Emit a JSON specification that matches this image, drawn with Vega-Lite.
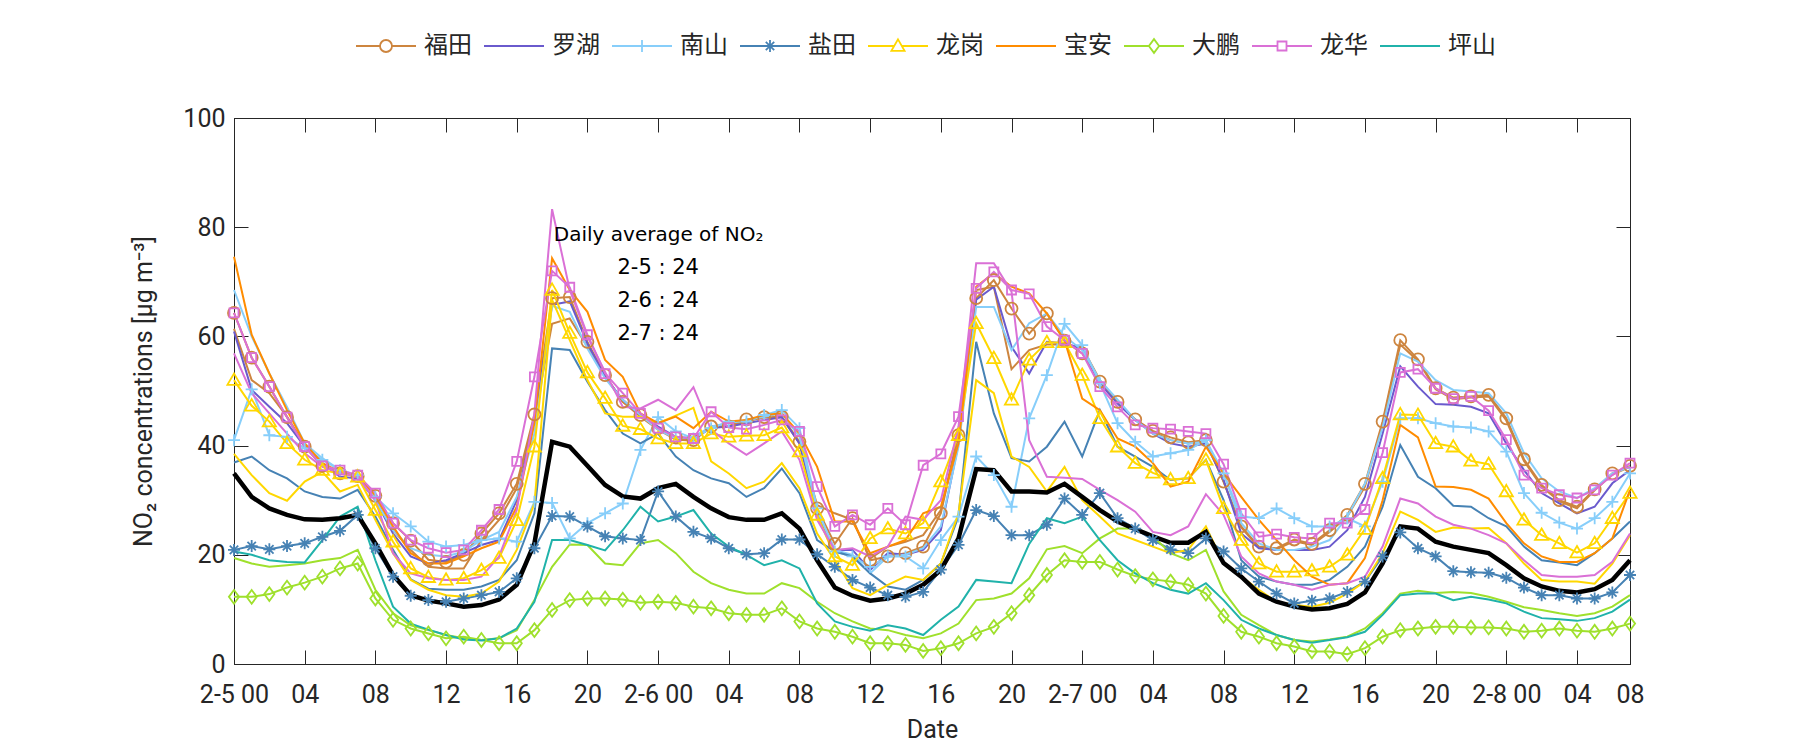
{
"$schema": "https://vega.github.io/schema/vega-lite/v6.json",
"autosize": {"type": "none"},
"width": 1396, "height": 546,
"padding": {"left": 234, "top": 118, "right": 170, "bottom": 86},
"background": "white",
"config": {
  "font": "Roboto",
  "view": {"stroke": "#262626", "strokeWidth": 1},
  "axis": {"domainColor": "#262626", "tickColor": "#262626", "labelColor": "#262626", "titleColor": "#262626", "grid": false, "labelFont": "Roboto", "titleFont": "Roboto", "labelFontSize": 25, "titleFontSize": 25, "titleFontWeight": "normal", "tickSize": -14, "tickWidth": 1}
},
"data": {"values": [
{"d":"福田","k":"a","h":0,"v":64.3},{"d":"福田","k":"a","h":1,"v":56.1},{"d":"福田","k":"a","h":2,"v":50.8},{"d":"福田","k":"a","h":3,"v":45.2},{"d":"福田","k":"a","h":4,"v":39.8},{"d":"福田","k":"a","h":5,"v":36.3},{"d":"福田","k":"a","h":6,"v":34.9},{"d":"福田","k":"a","h":7,"v":34.4},{"d":"福田","k":"a","h":8,"v":30.8},{"d":"福田","k":"a","h":9,"v":25.8},{"d":"福田","k":"a","h":10,"v":22.6},{"d":"福田","k":"a","h":11,"v":19.1},{"d":"福田","k":"a","h":12,"v":18.7},{"d":"福田","k":"a","h":13,"v":20.0},{"d":"福田","k":"a","h":14,"v":23.9},{"d":"福田","k":"a","h":15,"v":27.6},{"d":"福田","k":"a","h":16,"v":33.0},{"d":"福田","k":"a","h":17,"v":45.7},{"d":"福田","k":"a","h":18,"v":67.0},{"d":"福田","k":"a","h":19,"v":67.2},{"d":"福田","k":"a","h":20,"v":59.0},{"d":"福田","k":"a","h":21,"v":52.9},{"d":"福田","k":"a","h":22,"v":48.0},{"d":"福田","k":"a","h":23,"v":45.6},{"d":"福田","k":"a","h":24,"v":43.2},{"d":"福田","k":"a","h":25,"v":41.5},{"d":"福田","k":"a","h":26,"v":41.0},{"d":"福田","k":"a","h":27,"v":43.5},{"d":"福田","k":"a","h":28,"v":43.5},{"d":"福田","k":"a","h":29,"v":44.8},{"d":"福田","k":"a","h":30,"v":45.2},{"d":"福田","k":"a","h":31,"v":45.3},{"d":"福田","k":"a","h":32,"v":40.7},{"d":"福田","k":"a","h":33,"v":28.5},{"d":"福田","k":"a","h":34,"v":22.0},{"d":"福田","k":"a","h":35,"v":26.7},{"d":"福田","k":"a","h":36,"v":19.0},{"d":"福田","k":"a","h":37,"v":19.7},{"d":"福田","k":"a","h":38,"v":20.3},{"d":"福田","k":"a","h":39,"v":21.5},{"d":"福田","k":"a","h":40,"v":27.6},{"d":"福田","k":"a","h":41,"v":41.9},{"d":"福田","k":"a","h":42,"v":67.0},{"d":"福田","k":"a","h":43,"v":70.3},{"d":"福田","k":"a","h":44,"v":65.1},{"d":"福田","k":"a","h":45,"v":60.5},{"d":"福田","k":"a","h":46,"v":64.2},{"d":"福田","k":"a","h":47,"v":59.2},{"d":"福田","k":"a","h":48,"v":56.9},{"d":"福田","k":"a","h":49,"v":51.7},{"d":"福田","k":"a","h":50,"v":48.0},{"d":"福田","k":"a","h":51,"v":44.8},{"d":"福田","k":"a","h":52,"v":42.7},{"d":"福田","k":"a","h":53,"v":41.5},{"d":"福田","k":"a","h":54,"v":40.6},{"d":"福田","k":"a","h":55,"v":41.0},{"d":"福田","k":"a","h":56,"v":33.4},{"d":"福田","k":"a","h":57,"v":25.2},{"d":"福田","k":"a","h":58,"v":21.5},{"d":"福田","k":"a","h":59,"v":21.2},{"d":"福田","k":"a","h":60,"v":22.8},{"d":"福田","k":"a","h":61,"v":22.0},{"d":"福田","k":"a","h":62,"v":24.5},{"d":"福田","k":"a","h":63,"v":27.3},{"d":"福田","k":"a","h":64,"v":33.0},{"d":"福田","k":"a","h":65,"v":44.4},{"d":"福田","k":"a","h":66,"v":59.3},{"d":"福田","k":"a","h":67,"v":55.8},{"d":"福田","k":"a","h":68,"v":50.5},{"d":"福田","k":"a","h":69,"v":48.8},{"d":"福田","k":"a","h":70,"v":49.0},{"d":"福田","k":"a","h":71,"v":49.3},{"d":"福田","k":"a","h":72,"v":45.0},{"d":"福田","k":"a","h":73,"v":37.5},{"d":"福田","k":"a","h":74,"v":32.8},{"d":"福田","k":"a","h":75,"v":30.0},{"d":"福田","k":"a","h":76,"v":28.8},{"d":"福田","k":"a","h":77,"v":32.0},{"d":"福田","k":"a","h":78,"v":34.9},{"d":"福田","k":"a","h":79,"v":36.3},
{"d":"福田","k":"b","h":0,"v":61.4},{"d":"福田","k":"b","h":1,"v":52.0},{"d":"福田","k":"b","h":2,"v":49.6},{"d":"福田","k":"b","h":3,"v":45.3},{"d":"福田","k":"b","h":4,"v":40.1},{"d":"福田","k":"b","h":5,"v":36.4},{"d":"福田","k":"b","h":6,"v":35.0},{"d":"福田","k":"b","h":7,"v":34.3},{"d":"福田","k":"b","h":8,"v":30.3},{"d":"福田","k":"b","h":9,"v":24.5},{"d":"福田","k":"b","h":10,"v":20.9},{"d":"福田","k":"b","h":11,"v":17.8},{"d":"福田","k":"b","h":12,"v":17.5},{"d":"福田","k":"b","h":13,"v":17.5},{"d":"福田","k":"b","h":14,"v":22.7},{"d":"福田","k":"b","h":15,"v":26.4},{"d":"福田","k":"b","h":16,"v":32.2},{"d":"福田","k":"b","h":17,"v":44.9},{"d":"福田","k":"b","h":18,"v":62.3},{"d":"福田","k":"b","h":19,"v":63.3},{"d":"福田","k":"b","h":20,"v":58.1},{"d":"福田","k":"b","h":21,"v":52.6},{"d":"福田","k":"b","h":22,"v":48.0},{"d":"福田","k":"b","h":23,"v":45.3},{"d":"福田","k":"b","h":24,"v":42.9},{"d":"福田","k":"b","h":25,"v":41.1},{"d":"福田","k":"b","h":26,"v":40.9},{"d":"福田","k":"b","h":27,"v":43.5},{"d":"福田","k":"b","h":28,"v":43.6},{"d":"福田","k":"b","h":29,"v":44.4},{"d":"福田","k":"b","h":30,"v":45.2},{"d":"福田","k":"b","h":31,"v":45.2},{"d":"福田","k":"b","h":32,"v":40.4},{"d":"福田","k":"b","h":33,"v":29.1},{"d":"福田","k":"b","h":34,"v":27.6},{"d":"福田","k":"b","h":35,"v":26.4},{"d":"福田","k":"b","h":36,"v":19.3},{"d":"福田","k":"b","h":37,"v":21.5},{"d":"福田","k":"b","h":38,"v":22.4},{"d":"福田","k":"b","h":39,"v":23.6},{"d":"福田","k":"b","h":40,"v":28.2},{"d":"福田","k":"b","h":41,"v":42.2},{"d":"福田","k":"b","h":42,"v":68.5},{"d":"福田","k":"b","h":43,"v":69.1},{"d":"福田","k":"b","h":44,"v":54.0},{"d":"福田","k":"b","h":45,"v":57.5},{"d":"福田","k":"b","h":46,"v":58.5},{"d":"福田","k":"b","h":47,"v":58.5},{"d":"福田","k":"b","h":48,"v":58.0},{"d":"福田","k":"b","h":49,"v":52.0},{"d":"福田","k":"b","h":50,"v":48.0},{"d":"福田","k":"b","h":51,"v":44.7},{"d":"福田","k":"b","h":52,"v":42.5},{"d":"福田","k":"b","h":53,"v":41.0},{"d":"福田","k":"b","h":54,"v":40.4},{"d":"福田","k":"b","h":55,"v":40.7},{"d":"福田","k":"b","h":56,"v":33.4},{"d":"福田","k":"b","h":57,"v":25.0},{"d":"福田","k":"b","h":58,"v":21.3},{"d":"福田","k":"b","h":59,"v":21.0},{"d":"福田","k":"b","h":60,"v":22.5},{"d":"福田","k":"b","h":61,"v":21.8},{"d":"福田","k":"b","h":62,"v":24.2},{"d":"福田","k":"b","h":63,"v":27.0},{"d":"福田","k":"b","h":64,"v":32.5},{"d":"福田","k":"b","h":65,"v":44.0},{"d":"福田","k":"b","h":66,"v":58.5},{"d":"福田","k":"b","h":67,"v":55.5},{"d":"福田","k":"b","h":68,"v":50.3},{"d":"福田","k":"b","h":69,"v":48.5},{"d":"福田","k":"b","h":70,"v":48.8},{"d":"福田","k":"b","h":71,"v":49.0},{"d":"福田","k":"b","h":72,"v":44.6},{"d":"福田","k":"b","h":73,"v":37.2},{"d":"福田","k":"b","h":74,"v":32.5},{"d":"福田","k":"b","h":75,"v":29.8},{"d":"福田","k":"b","h":76,"v":28.5},{"d":"福田","k":"b","h":77,"v":31.8},{"d":"福田","k":"b","h":78,"v":34.7},{"d":"福田","k":"b","h":79,"v":36.1},
{"d":"罗湖","k":"a","h":0,"v":60.9},{"d":"罗湖","k":"a","h":1,"v":50.2},{"d":"罗湖","k":"a","h":2,"v":47.1},{"d":"罗湖","k":"a","h":3,"v":44.1},{"d":"罗湖","k":"a","h":4,"v":39.8},{"d":"罗湖","k":"a","h":5,"v":36.8},{"d":"罗湖","k":"a","h":6,"v":34.3},{"d":"罗湖","k":"a","h":7,"v":34.0},{"d":"罗湖","k":"a","h":8,"v":30.0},{"d":"罗湖","k":"a","h":9,"v":23.9},{"d":"罗湖","k":"a","h":10,"v":19.7},{"d":"罗湖","k":"a","h":11,"v":18.4},{"d":"罗湖","k":"a","h":12,"v":19.0},{"d":"罗湖","k":"a","h":13,"v":20.3},{"d":"罗湖","k":"a","h":14,"v":21.8},{"d":"罗湖","k":"a","h":15,"v":22.7},{"d":"罗湖","k":"a","h":16,"v":30.0},{"d":"罗湖","k":"a","h":17,"v":44.9},{"d":"罗湖","k":"a","h":18,"v":65.8},{"d":"罗湖","k":"a","h":19,"v":66.4},{"d":"罗湖","k":"a","h":20,"v":58.7},{"d":"罗湖","k":"a","h":21,"v":52.6},{"d":"罗湖","k":"a","h":22,"v":48.4},{"d":"罗湖","k":"a","h":23,"v":45.6},{"d":"罗湖","k":"a","h":24,"v":43.5},{"d":"罗湖","k":"a","h":25,"v":41.6},{"d":"罗湖","k":"a","h":26,"v":41.3},{"d":"罗湖","k":"a","h":27,"v":43.2},{"d":"罗湖","k":"a","h":28,"v":43.5},{"d":"罗湖","k":"a","h":29,"v":44.1},{"d":"罗湖","k":"a","h":30,"v":44.7},{"d":"罗湖","k":"a","h":31,"v":45.2},{"d":"罗湖","k":"a","h":32,"v":40.4},{"d":"罗湖","k":"a","h":33,"v":27.6},{"d":"罗湖","k":"a","h":34,"v":20.9},{"d":"罗湖","k":"a","h":35,"v":20.9},{"d":"罗湖","k":"a","h":36,"v":17.2},{"d":"罗湖","k":"a","h":37,"v":20.3},{"d":"罗湖","k":"a","h":38,"v":20.0},{"d":"罗湖","k":"a","h":39,"v":20.9},{"d":"罗湖","k":"a","h":40,"v":24.5},{"d":"罗湖","k":"a","h":41,"v":40.4},{"d":"罗湖","k":"a","h":42,"v":66.7},{"d":"罗湖","k":"a","h":43,"v":69.1},{"d":"罗湖","k":"a","h":44,"v":58.1},{"d":"罗湖","k":"a","h":45,"v":53.2},{"d":"罗湖","k":"a","h":46,"v":59.0},{"d":"罗湖","k":"a","h":47,"v":58.7},{"d":"罗湖","k":"a","h":48,"v":57.8},{"d":"罗湖","k":"a","h":49,"v":51.4},{"d":"罗湖","k":"a","h":50,"v":47.7},{"d":"罗湖","k":"a","h":51,"v":44.7},{"d":"罗湖","k":"a","h":52,"v":42.2},{"d":"罗湖","k":"a","h":53,"v":40.4},{"d":"罗湖","k":"a","h":54,"v":39.8},{"d":"罗湖","k":"a","h":55,"v":40.4},{"d":"罗湖","k":"a","h":56,"v":33.7},{"d":"罗湖","k":"a","h":57,"v":23.9},{"d":"罗湖","k":"a","h":58,"v":21.2},{"d":"罗湖","k":"a","h":59,"v":20.9},{"d":"罗湖","k":"a","h":60,"v":20.9},{"d":"罗湖","k":"a","h":61,"v":20.9},{"d":"罗湖","k":"a","h":62,"v":21.5},{"d":"罗湖","k":"a","h":63,"v":24.5},{"d":"罗湖","k":"a","h":64,"v":30.6},{"d":"罗湖","k":"a","h":65,"v":42.2},{"d":"罗湖","k":"a","h":66,"v":54.5},{"d":"罗湖","k":"a","h":67,"v":50.8},{"d":"罗湖","k":"a","h":68,"v":47.6},{"d":"罗湖","k":"a","h":69,"v":47.5},{"d":"罗湖","k":"a","h":70,"v":47.1},{"d":"罗湖","k":"a","h":71,"v":45.9},{"d":"罗湖","k":"a","h":72,"v":40.4},{"d":"罗湖","k":"a","h":73,"v":35.5},{"d":"罗湖","k":"a","h":74,"v":31.3},{"d":"罗湖","k":"a","h":75,"v":29.4},{"d":"罗湖","k":"a","h":76,"v":27.6},{"d":"罗湖","k":"a","h":77,"v":28.8},{"d":"罗湖","k":"a","h":78,"v":33.1},{"d":"罗湖","k":"a","h":79,"v":35.5},
{"d":"南山","k":"a","h":0,"v":41.0},{"d":"南山","k":"a","h":1,"v":50.3},{"d":"南山","k":"a","h":2,"v":41.9},{"d":"南山","k":"a","h":3,"v":41.6},{"d":"南山","k":"a","h":4,"v":39.5},{"d":"南山","k":"a","h":5,"v":37.4},{"d":"南山","k":"a","h":6,"v":35.5},{"d":"南山","k":"a","h":7,"v":34.6},{"d":"南山","k":"a","h":8,"v":30.6},{"d":"南山","k":"a","h":9,"v":27.6},{"d":"南山","k":"a","h":10,"v":25.2},{"d":"南山","k":"a","h":11,"v":22.4},{"d":"南山","k":"a","h":12,"v":21.5},{"d":"南山","k":"a","h":13,"v":21.8},{"d":"南山","k":"a","h":14,"v":22.7},{"d":"南山","k":"a","h":15,"v":23.0},{"d":"南山","k":"a","h":16,"v":22.4},{"d":"南山","k":"a","h":17,"v":29.7},{"d":"南山","k":"a","h":18,"v":29.5},{"d":"南山","k":"a","h":19,"v":23.0},{"d":"南山","k":"a","h":20,"v":25.8},{"d":"南山","k":"a","h":21,"v":27.6},{"d":"南山","k":"a","h":22,"v":29.4},{"d":"南山","k":"a","h":23,"v":39.2},{"d":"南山","k":"a","h":24,"v":45.2},{"d":"南山","k":"a","h":25,"v":42.6},{"d":"南山","k":"a","h":26,"v":41.3},{"d":"南山","k":"a","h":27,"v":43.2},{"d":"南山","k":"a","h":28,"v":44.4},{"d":"南山","k":"a","h":29,"v":44.4},{"d":"南山","k":"a","h":30,"v":45.6},{"d":"南山","k":"a","h":31,"v":46.5},{"d":"南山","k":"a","h":32,"v":43.2},{"d":"南山","k":"a","h":33,"v":28.5},{"d":"南山","k":"a","h":34,"v":20.6},{"d":"南山","k":"a","h":35,"v":19.7},{"d":"南山","k":"a","h":36,"v":17.8},{"d":"南山","k":"a","h":37,"v":19.7},{"d":"南山","k":"a","h":38,"v":19.7},{"d":"南山","k":"a","h":39,"v":17.5},{"d":"南山","k":"a","h":40,"v":22.7},{"d":"南山","k":"a","h":41,"v":27.0},{"d":"南山","k":"a","h":42,"v":38.0},{"d":"南山","k":"a","h":43,"v":34.6},{"d":"南山","k":"a","h":44,"v":28.8},{"d":"南山","k":"a","h":45,"v":45.0},{"d":"南山","k":"a","h":46,"v":52.9},{"d":"南山","k":"a","h":47,"v":62.3},{"d":"南山","k":"a","h":48,"v":58.4},{"d":"南山","k":"a","h":49,"v":51.4},{"d":"南山","k":"a","h":50,"v":44.1},{"d":"南山","k":"a","h":51,"v":40.7},{"d":"南山","k":"a","h":52,"v":38.0},{"d":"南山","k":"a","h":53,"v":38.6},{"d":"南山","k":"a","h":54,"v":39.2},{"d":"南山","k":"a","h":55,"v":41.0},{"d":"南山","k":"a","h":56,"v":34.9},{"d":"南山","k":"a","h":57,"v":27.0},{"d":"南山","k":"a","h":58,"v":26.7},{"d":"南山","k":"a","h":59,"v":28.5},{"d":"南山","k":"a","h":60,"v":26.7},{"d":"南山","k":"a","h":61,"v":25.2},{"d":"南山","k":"a","h":62,"v":25.2},{"d":"南山","k":"a","h":63,"v":26.7},{"d":"南山","k":"a","h":64,"v":25.2},{"d":"南山","k":"a","h":65,"v":33.4},{"d":"南山","k":"a","h":66,"v":45.0},{"d":"南山","k":"a","h":67,"v":45.0},{"d":"南山","k":"a","h":68,"v":44.1},{"d":"南山","k":"a","h":69,"v":43.5},{"d":"南山","k":"a","h":70,"v":43.3},{"d":"南山","k":"a","h":71,"v":42.6},{"d":"南山","k":"a","h":72,"v":38.9},{"d":"南山","k":"a","h":73,"v":31.3},{"d":"南山","k":"a","h":74,"v":27.7},{"d":"南山","k":"a","h":75,"v":25.9},{"d":"南山","k":"a","h":76,"v":24.8},{"d":"南山","k":"a","h":77,"v":26.7},{"d":"南山","k":"a","h":78,"v":29.7},{"d":"南山","k":"a","h":79,"v":34.9},
{"d":"南山","k":"b","h":0,"v":68.5},{"d":"南山","k":"b","h":1,"v":60.0},{"d":"南山","k":"b","h":2,"v":53.2},{"d":"南山","k":"b","h":3,"v":47.1},{"d":"南山","k":"b","h":4,"v":40.4},{"d":"南山","k":"b","h":5,"v":37.7},{"d":"南山","k":"b","h":6,"v":35.5},{"d":"南山","k":"b","h":7,"v":34.3},{"d":"南山","k":"b","h":8,"v":30.0},{"d":"南山","k":"b","h":9,"v":24.5},{"d":"南山","k":"b","h":10,"v":21.2},{"d":"南山","k":"b","h":11,"v":20.0},{"d":"南山","k":"b","h":12,"v":19.7},{"d":"南山","k":"b","h":13,"v":20.6},{"d":"南山","k":"b","h":14,"v":22.7},{"d":"南山","k":"b","h":15,"v":24.2},{"d":"南山","k":"b","h":16,"v":30.6},{"d":"南山","k":"b","h":17,"v":42.2},{"d":"南山","k":"b","h":18,"v":65.6},{"d":"南山","k":"b","h":19,"v":64.5},{"d":"南山","k":"b","h":20,"v":57.8},{"d":"南山","k":"b","h":21,"v":52.3},{"d":"南山","k":"b","h":22,"v":48.4},{"d":"南山","k":"b","h":23,"v":45.6},{"d":"南山","k":"b","h":24,"v":42.9},{"d":"南山","k":"b","h":25,"v":41.3},{"d":"南山","k":"b","h":26,"v":41.6},{"d":"南山","k":"b","h":27,"v":43.5},{"d":"南山","k":"b","h":28,"v":44.1},{"d":"南山","k":"b","h":29,"v":44.7},{"d":"南山","k":"b","h":30,"v":45.3},{"d":"南山","k":"b","h":31,"v":45.9},{"d":"南山","k":"b","h":32,"v":41.6},{"d":"南山","k":"b","h":33,"v":28.2},{"d":"南山","k":"b","h":34,"v":20.9},{"d":"南山","k":"b","h":35,"v":20.0},{"d":"南山","k":"b","h":36,"v":16.6},{"d":"南山","k":"b","h":37,"v":19.7},{"d":"南山","k":"b","h":38,"v":20.0},{"d":"南山","k":"b","h":39,"v":21.2},{"d":"南山","k":"b","h":40,"v":25.2},{"d":"南山","k":"b","h":41,"v":39.8},{"d":"南山","k":"b","h":42,"v":65.4},{"d":"南山","k":"b","h":43,"v":65.4},{"d":"南山","k":"b","h":44,"v":57.5},{"d":"南山","k":"b","h":45,"v":62.4},{"d":"南山","k":"b","h":46,"v":64.2},{"d":"南山","k":"b","h":47,"v":60.0},{"d":"南山","k":"b","h":48,"v":57.5},{"d":"南山","k":"b","h":49,"v":52.0},{"d":"南山","k":"b","h":50,"v":48.4},{"d":"南山","k":"b","h":51,"v":44.7},{"d":"南山","k":"b","h":52,"v":42.2},{"d":"南山","k":"b","h":53,"v":41.0},{"d":"南山","k":"b","h":54,"v":40.4},{"d":"南山","k":"b","h":55,"v":40.7},{"d":"南山","k":"b","h":56,"v":34.9},{"d":"南山","k":"b","h":57,"v":25.8},{"d":"南山","k":"b","h":58,"v":22.1},{"d":"南山","k":"b","h":59,"v":20.9},{"d":"南山","k":"b","h":60,"v":20.9},{"d":"南山","k":"b","h":61,"v":21.5},{"d":"南山","k":"b","h":62,"v":22.7},{"d":"南山","k":"b","h":63,"v":27.0},{"d":"南山","k":"b","h":64,"v":33.0},{"d":"南山","k":"b","h":65,"v":43.3},{"d":"南山","k":"b","h":66,"v":56.9},{"d":"南山","k":"b","h":67,"v":55.4},{"d":"南山","k":"b","h":68,"v":52.0},{"d":"南山","k":"b","h":69,"v":50.2},{"d":"南山","k":"b","h":70,"v":49.9},{"d":"南山","k":"b","h":71,"v":49.6},{"d":"南山","k":"b","h":72,"v":45.9},{"d":"南山","k":"b","h":73,"v":38.6},{"d":"南山","k":"b","h":74,"v":34.0},{"d":"南山","k":"b","h":75,"v":31.6},{"d":"南山","k":"b","h":76,"v":30.4},{"d":"南山","k":"b","h":77,"v":32.2},{"d":"南山","k":"b","h":78,"v":34.9},{"d":"南山","k":"b","h":79,"v":36.1},
{"d":"盐田","k":"a","h":0,"v":20.9},{"d":"盐田","k":"a","h":1,"v":21.6},{"d":"盐田","k":"a","h":2,"v":21.0},{"d":"盐田","k":"a","h":3,"v":21.6},{"d":"盐田","k":"a","h":4,"v":22.1},{"d":"盐田","k":"a","h":5,"v":23.3},{"d":"盐田","k":"a","h":6,"v":24.4},{"d":"盐田","k":"a","h":7,"v":27.3},{"d":"盐田","k":"a","h":8,"v":21.2},{"d":"盐田","k":"a","h":9,"v":16.0},{"d":"盐田","k":"a","h":10,"v":12.5},{"d":"盐田","k":"a","h":11,"v":11.7},{"d":"盐田","k":"a","h":12,"v":11.4},{"d":"盐田","k":"a","h":13,"v":12.0},{"d":"盐田","k":"a","h":14,"v":12.6},{"d":"盐田","k":"a","h":15,"v":13.2},{"d":"盐田","k":"a","h":16,"v":15.7},{"d":"盐田","k":"a","h":17,"v":21.2},{"d":"盐田","k":"a","h":18,"v":27.1},{"d":"盐田","k":"a","h":19,"v":27.0},{"d":"盐田","k":"a","h":20,"v":25.2},{"d":"盐田","k":"a","h":21,"v":23.4},{"d":"盐田","k":"a","h":22,"v":23.0},{"d":"盐田","k":"a","h":23,"v":22.7},{"d":"盐田","k":"a","h":24,"v":31.6},{"d":"盐田","k":"a","h":25,"v":27.0},{"d":"盐田","k":"a","h":26,"v":24.2},{"d":"盐田","k":"a","h":27,"v":23.0},{"d":"盐田","k":"a","h":28,"v":21.2},{"d":"盐田","k":"a","h":29,"v":20.1},{"d":"盐田","k":"a","h":30,"v":20.3},{"d":"盐田","k":"a","h":31,"v":22.8},{"d":"盐田","k":"a","h":32,"v":22.8},{"d":"盐田","k":"a","h":33,"v":20.1},{"d":"盐田","k":"a","h":34,"v":17.8},{"d":"盐田","k":"a","h":35,"v":15.4},{"d":"盐田","k":"a","h":36,"v":14.0},{"d":"盐田","k":"a","h":37,"v":12.6},{"d":"盐田","k":"a","h":38,"v":12.3},{"d":"盐田","k":"a","h":39,"v":13.2},{"d":"盐田","k":"a","h":40,"v":17.3},{"d":"盐田","k":"a","h":41,"v":21.8},{"d":"盐田","k":"a","h":42,"v":28.2},{"d":"盐田","k":"a","h":43,"v":27.1},{"d":"盐田","k":"a","h":44,"v":23.6},{"d":"盐田","k":"a","h":45,"v":23.6},{"d":"盐田","k":"a","h":46,"v":25.5},{"d":"盐田","k":"a","h":47,"v":30.3},{"d":"盐田","k":"a","h":48,"v":27.3},{"d":"盐田","k":"a","h":49,"v":31.3},{"d":"盐田","k":"a","h":50,"v":26.7},{"d":"盐田","k":"a","h":51,"v":24.8},{"d":"盐田","k":"a","h":52,"v":22.7},{"d":"盐田","k":"a","h":53,"v":21.0},{"d":"盐田","k":"a","h":54,"v":20.3},{"d":"盐田","k":"a","h":55,"v":23.0},{"d":"盐田","k":"a","h":56,"v":20.6},{"d":"盐田","k":"a","h":57,"v":17.5},{"d":"盐田","k":"a","h":58,"v":15.1},{"d":"盐田","k":"a","h":59,"v":12.9},{"d":"盐田","k":"a","h":60,"v":11.1},{"d":"盐田","k":"a","h":61,"v":11.6},{"d":"盐田","k":"a","h":62,"v":12.0},{"d":"盐田","k":"a","h":63,"v":13.2},{"d":"盐田","k":"a","h":64,"v":15.1},{"d":"盐田","k":"a","h":65,"v":19.7},{"d":"盐田","k":"a","h":66,"v":24.1},{"d":"盐田","k":"a","h":67,"v":21.2},{"d":"盐田","k":"a","h":68,"v":19.7},{"d":"盐田","k":"a","h":69,"v":17.0},{"d":"盐田","k":"a","h":70,"v":16.8},{"d":"盐田","k":"a","h":71,"v":16.7},{"d":"盐田","k":"a","h":72,"v":15.8},{"d":"盐田","k":"a","h":73,"v":14.0},{"d":"盐田","k":"a","h":74,"v":12.6},{"d":"盐田","k":"a","h":75,"v":12.6},{"d":"盐田","k":"a","h":76,"v":12.0},{"d":"盐田","k":"a","h":77,"v":12.0},{"d":"盐田","k":"a","h":78,"v":13.1},{"d":"盐田","k":"a","h":79,"v":16.3},
{"d":"盐田","k":"b","h":0,"v":36.9},{"d":"盐田","k":"b","h":1,"v":38.0},{"d":"盐田","k":"b","h":2,"v":35.5},{"d":"盐田","k":"b","h":3,"v":34.0},{"d":"盐田","k":"b","h":4,"v":31.6},{"d":"盐田","k":"b","h":5,"v":30.6},{"d":"盐田","k":"b","h":6,"v":30.3},{"d":"盐田","k":"b","h":7,"v":31.9},{"d":"盐田","k":"b","h":8,"v":27.0},{"d":"盐田","k":"b","h":9,"v":20.9},{"d":"盐田","k":"b","h":10,"v":15.5},{"d":"盐田","k":"b","h":11,"v":13.8},{"d":"盐田","k":"b","h":12,"v":13.6},{"d":"盐田","k":"b","h":13,"v":13.6},{"d":"盐田","k":"b","h":14,"v":14.2},{"d":"盐田","k":"b","h":15,"v":15.4},{"d":"盐田","k":"b","h":16,"v":19.0},{"d":"盐田","k":"b","h":17,"v":27.6},{"d":"盐田","k":"b","h":18,"v":57.8},{"d":"盐田","k":"b","h":19,"v":57.5},{"d":"盐田","k":"b","h":20,"v":51.7},{"d":"盐田","k":"b","h":21,"v":46.5},{"d":"盐田","k":"b","h":22,"v":42.2},{"d":"盐田","k":"b","h":23,"v":40.4},{"d":"盐田","k":"b","h":24,"v":42.2},{"d":"盐田","k":"b","h":25,"v":38.0},{"d":"盐田","k":"b","h":26,"v":35.5},{"d":"盐田","k":"b","h":27,"v":34.0},{"d":"盐田","k":"b","h":28,"v":33.1},{"d":"盐田","k":"b","h":29,"v":30.6},{"d":"盐田","k":"b","h":30,"v":32.2},{"d":"盐田","k":"b","h":31,"v":35.8},{"d":"盐田","k":"b","h":32,"v":31.3},{"d":"盐田","k":"b","h":33,"v":22.7},{"d":"盐田","k":"b","h":34,"v":20.6},{"d":"盐田","k":"b","h":35,"v":19.7},{"d":"盐田","k":"b","h":36,"v":16.6},{"d":"盐田","k":"b","h":37,"v":14.2},{"d":"盐田","k":"b","h":38,"v":13.6},{"d":"盐田","k":"b","h":39,"v":15.4},{"d":"盐田","k":"b","h":40,"v":18.4},{"d":"盐田","k":"b","h":41,"v":27.0},{"d":"盐田","k":"b","h":42,"v":59.0},{"d":"盐田","k":"b","h":43,"v":45.9},{"d":"盐田","k":"b","h":44,"v":37.7},{"d":"盐田","k":"b","h":45,"v":37.1},{"d":"盐田","k":"b","h":46,"v":39.8},{"d":"盐田","k":"b","h":47,"v":44.4},{"d":"盐田","k":"b","h":48,"v":38.0},{"d":"盐田","k":"b","h":49,"v":46.5},{"d":"盐田","k":"b","h":50,"v":39.8},{"d":"盐田","k":"b","h":51,"v":38.0},{"d":"盐田","k":"b","h":52,"v":36.1},{"d":"盐田","k":"b","h":53,"v":33.7},{"d":"盐田","k":"b","h":54,"v":34.0},{"d":"盐田","k":"b","h":55,"v":37.4},{"d":"盐田","k":"b","h":56,"v":30.0},{"d":"盐田","k":"b","h":57,"v":19.0},{"d":"盐田","k":"b","h":58,"v":16.0},{"d":"盐田","k":"b","h":59,"v":15.1},{"d":"盐田","k":"b","h":60,"v":14.5},{"d":"盐田","k":"b","h":61,"v":14.5},{"d":"盐田","k":"b","h":62,"v":15.4},{"d":"盐田","k":"b","h":63,"v":17.8},{"d":"盐田","k":"b","h":64,"v":21.5},{"d":"盐田","k":"b","h":65,"v":28.8},{"d":"盐田","k":"b","h":66,"v":40.1},{"d":"盐田","k":"b","h":67,"v":34.3},{"d":"盐田","k":"b","h":68,"v":32.2},{"d":"盐田","k":"b","h":69,"v":29.0},{"d":"盐田","k":"b","h":70,"v":28.8},{"d":"盐田","k":"b","h":71,"v":26.7},{"d":"盐田","k":"b","h":72,"v":25.2},{"d":"盐田","k":"b","h":73,"v":21.5},{"d":"盐田","k":"b","h":74,"v":19.0},{"d":"盐田","k":"b","h":75,"v":18.6},{"d":"盐田","k":"b","h":76,"v":18.1},{"d":"盐田","k":"b","h":77,"v":20.3},{"d":"盐田","k":"b","h":78,"v":23.0},{"d":"盐田","k":"b","h":79,"v":26.1},
{"d":"龙岗","k":"a","h":0,"v":52.0},{"d":"龙岗","k":"a","h":1,"v":47.3},{"d":"龙岗","k":"a","h":2,"v":44.4},{"d":"龙岗","k":"a","h":3,"v":40.4},{"d":"龙岗","k":"a","h":4,"v":37.4},{"d":"龙岗","k":"a","h":5,"v":35.5},{"d":"龙岗","k":"a","h":6,"v":34.9},{"d":"龙岗","k":"a","h":7,"v":34.3},{"d":"龙岗","k":"a","h":8,"v":28.2},{"d":"龙岗","k":"a","h":9,"v":22.4},{"d":"龙岗","k":"a","h":10,"v":17.5},{"d":"龙岗","k":"a","h":11,"v":15.9},{"d":"龙岗","k":"a","h":12,"v":15.4},{"d":"龙岗","k":"a","h":13,"v":15.7},{"d":"龙岗","k":"a","h":14,"v":17.2},{"d":"龙岗","k":"a","h":15,"v":19.4},{"d":"龙岗","k":"a","h":16,"v":26.3},{"d":"龙岗","k":"a","h":17,"v":39.8},{"d":"龙岗","k":"a","h":18,"v":68.5},{"d":"龙岗","k":"a","h":19,"v":60.6},{"d":"龙岗","k":"a","h":20,"v":53.4},{"d":"龙岗","k":"a","h":21,"v":48.7},{"d":"龙岗","k":"a","h":22,"v":43.6},{"d":"龙岗","k":"a","h":23,"v":43.0},{"d":"龙岗","k":"a","h":24,"v":41.3},{"d":"龙岗","k":"a","h":25,"v":40.4},{"d":"龙岗","k":"a","h":26,"v":40.4},{"d":"龙岗","k":"a","h":27,"v":42.2},{"d":"龙岗","k":"a","h":28,"v":41.6},{"d":"龙岗","k":"a","h":29,"v":41.8},{"d":"龙岗","k":"a","h":30,"v":41.9},{"d":"龙岗","k":"a","h":31,"v":43.3},{"d":"龙岗","k":"a","h":32,"v":38.9},{"d":"龙岗","k":"a","h":33,"v":27.3},{"d":"龙岗","k":"a","h":34,"v":19.7},{"d":"龙岗","k":"a","h":35,"v":18.1},{"d":"龙岗","k":"a","h":36,"v":23.0},{"d":"龙岗","k":"a","h":37,"v":24.8},{"d":"龙岗","k":"a","h":38,"v":23.9},{"d":"龙岗","k":"a","h":39,"v":25.8},{"d":"龙岗","k":"a","h":40,"v":33.4},{"d":"龙岗","k":"a","h":41,"v":41.9},{"d":"龙岗","k":"a","h":42,"v":62.4},{"d":"龙岗","k":"a","h":43,"v":56.0},{"d":"龙岗","k":"a","h":44,"v":48.4},{"d":"龙岗","k":"a","h":45,"v":55.7},{"d":"龙岗","k":"a","h":46,"v":58.9},{"d":"龙岗","k":"a","h":47,"v":58.9},{"d":"龙岗","k":"a","h":48,"v":52.9},{"d":"龙岗","k":"a","h":49,"v":45.0},{"d":"龙岗","k":"a","h":50,"v":39.8},{"d":"龙岗","k":"a","h":51,"v":36.8},{"d":"龙岗","k":"a","h":52,"v":35.0},{"d":"龙岗","k":"a","h":53,"v":33.8},{"d":"龙岗","k":"a","h":54,"v":34.0},{"d":"龙岗","k":"a","h":55,"v":37.4},{"d":"龙岗","k":"a","h":56,"v":28.5},{"d":"龙岗","k":"a","h":57,"v":22.7},{"d":"龙岗","k":"a","h":58,"v":18.4},{"d":"龙岗","k":"a","h":59,"v":16.9},{"d":"龙岗","k":"a","h":60,"v":16.9},{"d":"龙岗","k":"a","h":61,"v":17.1},{"d":"龙岗","k":"a","h":62,"v":17.8},{"d":"龙岗","k":"a","h":63,"v":20.0},{"d":"龙岗","k":"a","h":64,"v":24.7},{"d":"龙岗","k":"a","h":65,"v":34.0},{"d":"龙岗","k":"a","h":66,"v":45.7},{"d":"龙岗","k":"a","h":67,"v":45.6},{"d":"龙岗","k":"a","h":68,"v":40.4},{"d":"龙岗","k":"a","h":69,"v":39.8},{"d":"龙岗","k":"a","h":70,"v":37.2},{"d":"龙岗","k":"a","h":71,"v":36.6},{"d":"龙岗","k":"a","h":72,"v":31.6},{"d":"龙岗","k":"a","h":73,"v":26.4},{"d":"龙岗","k":"a","h":74,"v":23.6},{"d":"龙岗","k":"a","h":75,"v":22.1},{"d":"龙岗","k":"a","h":76,"v":20.4},{"d":"龙岗","k":"a","h":77,"v":22.1},{"d":"龙岗","k":"a","h":78,"v":26.7},{"d":"龙岗","k":"a","h":79,"v":31.3},
{"d":"龙岗","k":"b","h":0,"v":38.5},{"d":"龙岗","k":"b","h":1,"v":34.6},{"d":"龙岗","k":"b","h":2,"v":31.3},{"d":"龙岗","k":"b","h":3,"v":29.9},{"d":"龙岗","k":"b","h":4,"v":33.4},{"d":"龙岗","k":"b","h":5,"v":35.2},{"d":"龙岗","k":"b","h":6,"v":31.6},{"d":"龙岗","k":"b","h":7,"v":32.8},{"d":"龙岗","k":"b","h":8,"v":26.4},{"d":"龙岗","k":"b","h":9,"v":20.3},{"d":"龙岗","k":"b","h":10,"v":15.4},{"d":"龙岗","k":"b","h":11,"v":13.6},{"d":"龙岗","k":"b","h":12,"v":12.6},{"d":"龙岗","k":"b","h":13,"v":12.3},{"d":"龙岗","k":"b","h":14,"v":12.9},{"d":"龙岗","k":"b","h":15,"v":15.1},{"d":"龙岗","k":"b","h":16,"v":20.9},{"d":"龙岗","k":"b","h":17,"v":29.4},{"d":"龙岗","k":"b","h":18,"v":66.7},{"d":"龙岗","k":"b","h":19,"v":59.3},{"d":"龙岗","k":"b","h":20,"v":52.0},{"d":"龙岗","k":"b","h":21,"v":45.9},{"d":"龙岗","k":"b","h":22,"v":45.3},{"d":"龙岗","k":"b","h":23,"v":45.3},{"d":"龙岗","k":"b","h":24,"v":44.1},{"d":"龙岗","k":"b","h":25,"v":45.5},{"d":"龙岗","k":"b","h":26,"v":46.9},{"d":"龙岗","k":"b","h":27,"v":37.1},{"d":"龙岗","k":"b","h":28,"v":34.9},{"d":"龙岗","k":"b","h":29,"v":32.2},{"d":"龙岗","k":"b","h":30,"v":33.4},{"d":"龙岗","k":"b","h":31,"v":36.8},{"d":"龙岗","k":"b","h":32,"v":32.2},{"d":"龙岗","k":"b","h":33,"v":23.9},{"d":"龙岗","k":"b","h":34,"v":19.0},{"d":"龙岗","k":"b","h":35,"v":13.9},{"d":"龙岗","k":"b","h":36,"v":12.6},{"d":"龙岗","k":"b","h":37,"v":14.5},{"d":"龙岗","k":"b","h":38,"v":16.0},{"d":"龙岗","k":"b","h":39,"v":15.4},{"d":"龙岗","k":"b","h":40,"v":18.4},{"d":"龙岗","k":"b","h":41,"v":27.6},{"d":"龙岗","k":"b","h":42,"v":52.0},{"d":"龙岗","k":"b","h":43,"v":49.6},{"d":"龙岗","k":"b","h":44,"v":38.0},{"d":"龙岗","k":"b","h":45,"v":36.1},{"d":"龙岗","k":"b","h":46,"v":31.6},{"d":"龙岗","k":"b","h":47,"v":36.1},{"d":"龙岗","k":"b","h":48,"v":30.0},{"d":"龙岗","k":"b","h":49,"v":27.0},{"d":"龙岗","k":"b","h":50,"v":23.9},{"d":"龙岗","k":"b","h":51,"v":22.7},{"d":"龙岗","k":"b","h":52,"v":21.5},{"d":"龙岗","k":"b","h":53,"v":20.3},{"d":"龙岗","k":"b","h":54,"v":20.9},{"d":"龙岗","k":"b","h":55,"v":25.2},{"d":"龙岗","k":"b","h":56,"v":18.4},{"d":"龙岗","k":"b","h":57,"v":16.0},{"d":"龙岗","k":"b","h":58,"v":13.6},{"d":"龙岗","k":"b","h":59,"v":11.4},{"d":"龙岗","k":"b","h":60,"v":10.8},{"d":"龙岗","k":"b","h":61,"v":10.5},{"d":"龙岗","k":"b","h":62,"v":11.2},{"d":"龙岗","k":"b","h":63,"v":12.9},{"d":"龙岗","k":"b","h":64,"v":15.1},{"d":"龙岗","k":"b","h":65,"v":20.3},{"d":"龙岗","k":"b","h":66,"v":27.9},{"d":"龙岗","k":"b","h":67,"v":26.4},{"d":"龙岗","k":"b","h":68,"v":24.2},{"d":"龙岗","k":"b","h":69,"v":25.0},{"d":"龙岗","k":"b","h":70,"v":24.8},{"d":"龙岗","k":"b","h":71,"v":24.9},{"d":"龙岗","k":"b","h":72,"v":22.1},{"d":"龙岗","k":"b","h":73,"v":18.4},{"d":"龙岗","k":"b","h":74,"v":15.4},{"d":"龙岗","k":"b","h":75,"v":15.1},{"d":"龙岗","k":"b","h":76,"v":15.1},{"d":"龙岗","k":"b","h":77,"v":14.7},{"d":"龙岗","k":"b","h":78,"v":18.4},{"d":"龙岗","k":"b","h":79,"v":23.6},
{"d":"宝安","k":"a","h":0,"v":74.6},{"d":"宝安","k":"a","h":1,"v":60.3},{"d":"宝安","k":"a","h":2,"v":53.2},{"d":"宝安","k":"a","h":3,"v":46.5},{"d":"宝安","k":"a","h":4,"v":40.4},{"d":"宝安","k":"a","h":5,"v":36.8},{"d":"宝安","k":"a","h":6,"v":35.2},{"d":"宝安","k":"a","h":7,"v":34.3},{"d":"宝安","k":"a","h":8,"v":30.9},{"d":"宝安","k":"a","h":9,"v":25.2},{"d":"宝安","k":"a","h":10,"v":20.3},{"d":"宝安","k":"a","h":11,"v":18.4},{"d":"宝安","k":"a","h":12,"v":18.4},{"d":"宝安","k":"a","h":13,"v":19.7},{"d":"宝安","k":"a","h":14,"v":21.2},{"d":"宝安","k":"a","h":15,"v":22.4},{"d":"宝安","k":"a","h":16,"v":28.8},{"d":"宝安","k":"a","h":17,"v":44.1},{"d":"宝安","k":"a","h":18,"v":74.3},{"d":"宝安","k":"a","h":19,"v":68.5},{"d":"宝安","k":"a","h":20,"v":64.5},{"d":"宝安","k":"a","h":21,"v":55.7},{"d":"宝安","k":"a","h":22,"v":52.6},{"d":"宝安","k":"a","h":23,"v":45.9},{"d":"宝安","k":"a","h":24,"v":44.1},{"d":"宝安","k":"a","h":25,"v":45.3},{"d":"宝安","k":"a","h":26,"v":43.2},{"d":"宝安","k":"a","h":27,"v":46.2},{"d":"宝安","k":"a","h":28,"v":44.4},{"d":"宝安","k":"a","h":29,"v":44.7},{"d":"宝安","k":"a","h":30,"v":45.6},{"d":"宝安","k":"a","h":31,"v":45.9},{"d":"宝安","k":"a","h":32,"v":42.2},{"d":"宝安","k":"a","h":33,"v":36.1},{"d":"宝安","k":"a","h":34,"v":26.1},{"d":"宝安","k":"a","h":35,"v":26.1},{"d":"宝安","k":"a","h":36,"v":20.3},{"d":"宝安","k":"a","h":37,"v":21.5},{"d":"宝安","k":"a","h":38,"v":22.7},{"d":"宝安","k":"a","h":39,"v":27.6},{"d":"宝安","k":"a","h":40,"v":28.8},{"d":"宝安","k":"a","h":41,"v":40.4},{"d":"宝安","k":"a","h":42,"v":69.1},{"d":"宝安","k":"a","h":43,"v":71.6},{"d":"宝安","k":"a","h":44,"v":69.1},{"d":"宝安","k":"a","h":45,"v":67.9},{"d":"宝安","k":"a","h":46,"v":64.2},{"d":"宝安","k":"a","h":47,"v":59.3},{"d":"宝安","k":"a","h":48,"v":48.6},{"d":"宝安","k":"a","h":49,"v":46.5},{"d":"宝安","k":"a","h":50,"v":41.3},{"d":"宝安","k":"a","h":51,"v":39.8},{"d":"宝安","k":"a","h":52,"v":36.8},{"d":"宝安","k":"a","h":53,"v":32.5},{"d":"宝安","k":"a","h":54,"v":33.4},{"d":"宝安","k":"a","h":55,"v":39.8},{"d":"宝安","k":"a","h":56,"v":34.9},{"d":"宝安","k":"a","h":57,"v":30.6},{"d":"宝安","k":"a","h":58,"v":26.4},{"d":"宝安","k":"a","h":59,"v":22.7},{"d":"宝安","k":"a","h":60,"v":19.0},{"d":"宝安","k":"a","h":61,"v":16.0},{"d":"宝安","k":"a","h":62,"v":14.5},{"d":"宝安","k":"a","h":63,"v":14.8},{"d":"宝安","k":"a","h":64,"v":19.4},{"d":"宝安","k":"a","h":65,"v":30.0},{"d":"宝安","k":"a","h":66,"v":43.8},{"d":"宝安","k":"a","h":67,"v":41.5},{"d":"宝安","k":"a","h":68,"v":32.5},{"d":"宝安","k":"a","h":69,"v":32.4},{"d":"宝安","k":"a","h":70,"v":31.9},{"d":"宝安","k":"a","h":71,"v":30.3},{"d":"宝安","k":"a","h":72,"v":25.8},{"d":"宝安","k":"a","h":73,"v":22.1},{"d":"宝安","k":"a","h":74,"v":19.7},{"d":"宝安","k":"a","h":75,"v":18.7},{"d":"宝安","k":"a","h":76,"v":18.7},{"d":"宝安","k":"a","h":77,"v":20.3},{"d":"宝安","k":"a","h":78,"v":23.0},{"d":"宝安","k":"a","h":79,"v":31.9},
{"d":"大鹏","k":"a","h":0,"v":12.3},{"d":"大鹏","k":"a","h":1,"v":12.3},{"d":"大鹏","k":"a","h":2,"v":12.8},{"d":"大鹏","k":"a","h":3,"v":14.0},{"d":"大鹏","k":"a","h":4,"v":14.9},{"d":"大鹏","k":"a","h":5,"v":16.0},{"d":"大鹏","k":"a","h":6,"v":17.5},{"d":"大鹏","k":"a","h":7,"v":18.4},{"d":"大鹏","k":"a","h":8,"v":12.0},{"d":"大鹏","k":"a","h":9,"v":8.1},{"d":"大鹏","k":"a","h":10,"v":6.5},{"d":"大鹏","k":"a","h":11,"v":5.6},{"d":"大鹏","k":"a","h":12,"v":4.7},{"d":"大鹏","k":"a","h":13,"v":5.0},{"d":"大鹏","k":"a","h":14,"v":4.4},{"d":"大鹏","k":"a","h":15,"v":3.8},{"d":"大鹏","k":"a","h":16,"v":3.8},{"d":"大鹏","k":"a","h":17,"v":6.2},{"d":"大鹏","k":"a","h":18,"v":9.9},{"d":"大鹏","k":"a","h":19,"v":11.7},{"d":"大鹏","k":"a","h":20,"v":12.0},{"d":"大鹏","k":"a","h":21,"v":12.0},{"d":"大鹏","k":"a","h":22,"v":11.8},{"d":"大鹏","k":"a","h":23,"v":11.2},{"d":"大鹏","k":"a","h":24,"v":11.4},{"d":"大鹏","k":"a","h":25,"v":11.2},{"d":"大鹏","k":"a","h":26,"v":10.5},{"d":"大鹏","k":"a","h":27,"v":10.2},{"d":"大鹏","k":"a","h":28,"v":9.3},{"d":"大鹏","k":"a","h":29,"v":9.0},{"d":"大鹏","k":"a","h":30,"v":9.0},{"d":"大鹏","k":"a","h":31,"v":10.2},{"d":"大鹏","k":"a","h":32,"v":7.8},{"d":"大鹏","k":"a","h":33,"v":6.5},{"d":"大鹏","k":"a","h":34,"v":5.9},{"d":"大鹏","k":"a","h":35,"v":5.0},{"d":"大鹏","k":"a","h":36,"v":3.8},{"d":"大鹏","k":"a","h":37,"v":3.8},{"d":"大鹏","k":"a","h":38,"v":3.5},{"d":"大鹏","k":"a","h":39,"v":2.4},{"d":"大鹏","k":"a","h":40,"v":2.9},{"d":"大鹏","k":"a","h":41,"v":3.8},{"d":"大鹏","k":"a","h":42,"v":5.6},{"d":"大鹏","k":"a","h":43,"v":6.8},{"d":"大鹏","k":"a","h":44,"v":9.3},{"d":"大鹏","k":"a","h":45,"v":12.6},{"d":"大鹏","k":"a","h":46,"v":16.3},{"d":"大鹏","k":"a","h":47,"v":19.0},{"d":"大鹏","k":"a","h":48,"v":18.7},{"d":"大鹏","k":"a","h":49,"v":18.7},{"d":"大鹏","k":"a","h":50,"v":17.3},{"d":"大鹏","k":"a","h":51,"v":16.1},{"d":"大鹏","k":"a","h":52,"v":15.5},{"d":"大鹏","k":"a","h":53,"v":15.1},{"d":"大鹏","k":"a","h":54,"v":14.5},{"d":"大鹏","k":"a","h":55,"v":12.9},{"d":"大鹏","k":"a","h":56,"v":8.8},{"d":"大鹏","k":"a","h":57,"v":5.9},{"d":"大鹏","k":"a","h":58,"v":5.0},{"d":"大鹏","k":"a","h":59,"v":3.8},{"d":"大鹏","k":"a","h":60,"v":3.2},{"d":"大鹏","k":"a","h":61,"v":2.3},{"d":"大鹏","k":"a","h":62,"v":2.3},{"d":"大鹏","k":"a","h":63,"v":1.8},{"d":"大鹏","k":"a","h":64,"v":2.9},{"d":"大鹏","k":"a","h":65,"v":5.0},{"d":"大鹏","k":"a","h":66,"v":6.2},{"d":"大鹏","k":"a","h":67,"v":6.5},{"d":"大鹏","k":"a","h":68,"v":6.8},{"d":"大鹏","k":"a","h":69,"v":6.8},{"d":"大鹏","k":"a","h":70,"v":6.7},{"d":"大鹏","k":"a","h":71,"v":6.7},{"d":"大鹏","k":"a","h":72,"v":6.5},{"d":"大鹏","k":"a","h":73,"v":5.9},{"d":"大鹏","k":"a","h":74,"v":6.1},{"d":"大鹏","k":"a","h":75,"v":6.5},{"d":"大鹏","k":"a","h":76,"v":6.1},{"d":"大鹏","k":"a","h":77,"v":5.9},{"d":"大鹏","k":"a","h":78,"v":6.5},{"d":"大鹏","k":"a","h":79,"v":7.4},
{"d":"大鹏","k":"b","h":0,"v":19.4},{"d":"大鹏","k":"b","h":1,"v":18.4},{"d":"大鹏","k":"b","h":2,"v":17.8},{"d":"大鹏","k":"b","h":3,"v":18.1},{"d":"大鹏","k":"b","h":4,"v":18.4},{"d":"大鹏","k":"b","h":5,"v":19.0},{"d":"大鹏","k":"b","h":6,"v":19.4},{"d":"大鹏","k":"b","h":7,"v":20.9},{"d":"大鹏","k":"b","h":8,"v":13.6},{"d":"大鹏","k":"b","h":9,"v":9.3},{"d":"大鹏","k":"b","h":10,"v":7.1},{"d":"大鹏","k":"b","h":11,"v":6.2},{"d":"大鹏","k":"b","h":12,"v":5.3},{"d":"大鹏","k":"b","h":13,"v":4.7},{"d":"大鹏","k":"b","h":14,"v":4.4},{"d":"大鹏","k":"b","h":15,"v":4.7},{"d":"大鹏","k":"b","h":16,"v":6.2},{"d":"大鹏","k":"b","h":17,"v":11.7},{"d":"大鹏","k":"b","h":18,"v":17.8},{"d":"大鹏","k":"b","h":19,"v":21.9},{"d":"大鹏","k":"b","h":20,"v":21.8},{"d":"大鹏","k":"b","h":21,"v":18.4},{"d":"大鹏","k":"b","h":22,"v":18.1},{"d":"大鹏","k":"b","h":23,"v":22.1},{"d":"大鹏","k":"b","h":24,"v":22.7},{"d":"大鹏","k":"b","h":25,"v":20.3},{"d":"大鹏","k":"b","h":26,"v":16.9},{"d":"大鹏","k":"b","h":27,"v":14.8},{"d":"大鹏","k":"b","h":28,"v":13.6},{"d":"大鹏","k":"b","h":29,"v":12.9},{"d":"大鹏","k":"b","h":30,"v":12.9},{"d":"大鹏","k":"b","h":31,"v":14.8},{"d":"大鹏","k":"b","h":32,"v":13.9},{"d":"大鹏","k":"b","h":33,"v":11.4},{"d":"大鹏","k":"b","h":34,"v":9.3},{"d":"大鹏","k":"b","h":35,"v":7.8},{"d":"大鹏","k":"b","h":36,"v":6.5},{"d":"大鹏","k":"b","h":37,"v":6.2},{"d":"大鹏","k":"b","h":38,"v":5.3},{"d":"大鹏","k":"b","h":39,"v":4.7},{"d":"大鹏","k":"b","h":40,"v":5.6},{"d":"大鹏","k":"b","h":41,"v":7.4},{"d":"大鹏","k":"b","h":42,"v":11.7},{"d":"大鹏","k":"b","h":43,"v":12.0},{"d":"大鹏","k":"b","h":44,"v":12.9},{"d":"大鹏","k":"b","h":45,"v":15.7},{"d":"大鹏","k":"b","h":46,"v":21.0},{"d":"大鹏","k":"b","h":47,"v":21.6},{"d":"大鹏","k":"b","h":48,"v":20.3},{"d":"大鹏","k":"b","h":49,"v":23.0},{"d":"大鹏","k":"b","h":50,"v":24.8},{"d":"大鹏","k":"b","h":51,"v":24.8},{"d":"大鹏","k":"b","h":52,"v":23.4},{"d":"大鹏","k":"b","h":53,"v":20.3},{"d":"大鹏","k":"b","h":54,"v":19.0},{"d":"大鹏","k":"b","h":55,"v":20.9},{"d":"大鹏","k":"b","h":56,"v":13.3},{"d":"大鹏","k":"b","h":57,"v":9.0},{"d":"大鹏","k":"b","h":58,"v":7.1},{"d":"大鹏","k":"b","h":59,"v":5.3},{"d":"大鹏","k":"b","h":60,"v":4.4},{"d":"大鹏","k":"b","h":61,"v":4.1},{"d":"大鹏","k":"b","h":62,"v":4.5},{"d":"大鹏","k":"b","h":63,"v":5.0},{"d":"大鹏","k":"b","h":64,"v":6.5},{"d":"大鹏","k":"b","h":65,"v":9.3},{"d":"大鹏","k":"b","h":66,"v":12.9},{"d":"大鹏","k":"b","h":67,"v":13.4},{"d":"大鹏","k":"b","h":68,"v":13.0},{"d":"大鹏","k":"b","h":69,"v":13.2},{"d":"大鹏","k":"b","h":70,"v":13.0},{"d":"大鹏","k":"b","h":71,"v":12.3},{"d":"大鹏","k":"b","h":72,"v":11.4},{"d":"大鹏","k":"b","h":73,"v":10.4},{"d":"大鹏","k":"b","h":74,"v":9.9},{"d":"大鹏","k":"b","h":75,"v":9.3},{"d":"大鹏","k":"b","h":76,"v":8.8},{"d":"大鹏","k":"b","h":77,"v":9.3},{"d":"大鹏","k":"b","h":78,"v":10.5},{"d":"大鹏","k":"b","h":79,"v":12.6},
{"d":"龙华","k":"a","h":0,"v":64.3},{"d":"龙华","k":"a","h":1,"v":56.1},{"d":"龙华","k":"a","h":2,"v":50.8},{"d":"龙华","k":"a","h":3,"v":45.2},{"d":"龙华","k":"a","h":4,"v":39.8},{"d":"龙华","k":"a","h":5,"v":36.3},{"d":"龙华","k":"a","h":6,"v":35.5},{"d":"龙华","k":"a","h":7,"v":34.6},{"d":"龙华","k":"a","h":8,"v":31.3},{"d":"龙华","k":"a","h":9,"v":25.8},{"d":"龙华","k":"a","h":10,"v":22.7},{"d":"龙华","k":"a","h":11,"v":21.2},{"d":"龙华","k":"a","h":12,"v":20.4},{"d":"龙华","k":"a","h":13,"v":20.9},{"d":"龙华","k":"a","h":14,"v":24.5},{"d":"龙华","k":"a","h":15,"v":28.3},{"d":"龙华","k":"a","h":16,"v":37.1},{"d":"龙华","k":"a","h":17,"v":52.6},{"d":"龙华","k":"a","h":18,"v":72.0},{"d":"龙华","k":"a","h":19,"v":69.0},{"d":"龙华","k":"a","h":20,"v":60.3},{"d":"龙华","k":"a","h":21,"v":53.2},{"d":"龙华","k":"a","h":22,"v":49.6},{"d":"龙华","k":"a","h":23,"v":45.9},{"d":"龙华","k":"a","h":24,"v":43.2},{"d":"龙华","k":"a","h":25,"v":41.6},{"d":"龙华","k":"a","h":26,"v":41.3},{"d":"龙华","k":"a","h":27,"v":46.2},{"d":"龙华","k":"a","h":28,"v":43.3},{"d":"龙华","k":"a","h":29,"v":43.0},{"d":"龙华","k":"a","h":30,"v":43.8},{"d":"龙华","k":"a","h":31,"v":44.7},{"d":"龙华","k":"a","h":32,"v":42.6},{"d":"龙华","k":"a","h":33,"v":32.5},{"d":"龙华","k":"a","h":34,"v":25.2},{"d":"龙华","k":"a","h":35,"v":27.3},{"d":"龙华","k":"a","h":36,"v":25.5},{"d":"龙华","k":"a","h":37,"v":28.5},{"d":"龙华","k":"a","h":38,"v":25.5},{"d":"龙华","k":"a","h":39,"v":36.4},{"d":"龙华","k":"a","h":40,"v":38.5},{"d":"龙华","k":"a","h":41,"v":45.3},{"d":"龙华","k":"a","h":42,"v":68.8},{"d":"龙华","k":"a","h":43,"v":71.8},{"d":"龙华","k":"a","h":44,"v":68.5},{"d":"龙华","k":"a","h":45,"v":67.8},{"d":"龙华","k":"a","h":46,"v":61.8},{"d":"龙华","k":"a","h":47,"v":59.3},{"d":"龙华","k":"a","h":48,"v":56.9},{"d":"龙华","k":"a","h":49,"v":50.8},{"d":"龙华","k":"a","h":50,"v":47.1},{"d":"龙华","k":"a","h":51,"v":43.8},{"d":"龙华","k":"a","h":52,"v":43.2},{"d":"龙华","k":"a","h":53,"v":43.0},{"d":"龙华","k":"a","h":54,"v":42.6},{"d":"龙华","k":"a","h":55,"v":42.2},{"d":"龙华","k":"a","h":56,"v":36.6},{"d":"龙华","k":"a","h":57,"v":27.6},{"d":"龙华","k":"a","h":58,"v":23.3},{"d":"龙华","k":"a","h":59,"v":23.8},{"d":"龙华","k":"a","h":60,"v":23.2},{"d":"龙华","k":"a","h":61,"v":23.0},{"d":"龙华","k":"a","h":62,"v":25.8},{"d":"龙华","k":"a","h":63,"v":25.8},{"d":"龙华","k":"a","h":64,"v":28.3},{"d":"龙华","k":"a","h":65,"v":38.7},{"d":"龙华","k":"a","h":66,"v":53.4},{"d":"龙华","k":"a","h":67,"v":54.0},{"d":"龙华","k":"a","h":68,"v":50.5},{"d":"龙华","k":"a","h":69,"v":48.6},{"d":"龙华","k":"a","h":70,"v":49.0},{"d":"龙华","k":"a","h":71,"v":46.4},{"d":"龙华","k":"a","h":72,"v":41.1},{"d":"龙华","k":"a","h":73,"v":34.6},{"d":"龙华","k":"a","h":74,"v":32.2},{"d":"龙华","k":"a","h":75,"v":31.0},{"d":"龙华","k":"a","h":76,"v":30.4},{"d":"龙华","k":"a","h":77,"v":31.9},{"d":"龙华","k":"a","h":78,"v":34.6},{"d":"龙华","k":"a","h":79,"v":36.8},
{"d":"龙华","k":"b","h":0,"v":56.9},{"d":"龙华","k":"b","h":1,"v":49.6},{"d":"龙华","k":"b","h":2,"v":45.9},{"d":"龙华","k":"b","h":3,"v":42.2},{"d":"龙华","k":"b","h":4,"v":38.6},{"d":"龙华","k":"b","h":5,"v":36.1},{"d":"龙华","k":"b","h":6,"v":35.0},{"d":"龙华","k":"b","h":7,"v":34.3},{"d":"龙华","k":"b","h":8,"v":30.0},{"d":"龙华","k":"b","h":9,"v":20.3},{"d":"龙华","k":"b","h":10,"v":16.6},{"d":"龙华","k":"b","h":11,"v":15.7},{"d":"龙华","k":"b","h":12,"v":15.4},{"d":"龙华","k":"b","h":13,"v":15.4},{"d":"龙华","k":"b","h":14,"v":16.0},{"d":"龙华","k":"b","h":15,"v":19.7},{"d":"龙华","k":"b","h":16,"v":28.2},{"d":"龙华","k":"b","h":17,"v":45.9},{"d":"龙华","k":"b","h":18,"v":83.3},{"d":"龙华","k":"b","h":19,"v":68.5},{"d":"龙华","k":"b","h":20,"v":60.0},{"d":"龙华","k":"b","h":21,"v":53.5},{"d":"龙华","k":"b","h":22,"v":47.1},{"d":"龙华","k":"b","h":23,"v":46.8},{"d":"龙华","k":"b","h":24,"v":48.4},{"d":"龙华","k":"b","h":25,"v":46.5},{"d":"龙华","k":"b","h":26,"v":50.7},{"d":"龙华","k":"b","h":27,"v":42.9},{"d":"龙华","k":"b","h":28,"v":40.4},{"d":"龙华","k":"b","h":29,"v":38.3},{"d":"龙华","k":"b","h":30,"v":40.4},{"d":"龙华","k":"b","h":31,"v":42.6},{"d":"龙华","k":"b","h":32,"v":37.4},{"d":"龙华","k":"b","h":33,"v":26.4},{"d":"龙华","k":"b","h":34,"v":20.9},{"d":"龙华","k":"b","h":35,"v":21.2},{"d":"龙华","k":"b","h":36,"v":19.7},{"d":"龙华","k":"b","h":37,"v":21.5},{"d":"龙华","k":"b","h":38,"v":27.0},{"d":"龙华","k":"b","h":39,"v":26.4},{"d":"龙华","k":"b","h":40,"v":30.0},{"d":"龙华","k":"b","h":41,"v":43.5},{"d":"龙华","k":"b","h":42,"v":73.4},{"d":"龙华","k":"b","h":43,"v":73.4},{"d":"龙华","k":"b","h":44,"v":68.2},{"d":"龙华","k":"b","h":45,"v":41.0},{"d":"龙华","k":"b","h":46,"v":34.3},{"d":"龙华","k":"b","h":47,"v":34.1},{"d":"龙华","k":"b","h":48,"v":33.9},{"d":"龙华","k":"b","h":49,"v":31.9},{"d":"龙华","k":"b","h":50,"v":30.0},{"d":"龙华","k":"b","h":51,"v":27.9},{"d":"龙华","k":"b","h":52,"v":24.2},{"d":"龙华","k":"b","h":53,"v":23.6},{"d":"龙华","k":"b","h":54,"v":25.2},{"d":"龙华","k":"b","h":55,"v":31.1},{"d":"龙华","k":"b","h":56,"v":27.3},{"d":"龙华","k":"b","h":57,"v":19.7},{"d":"龙华","k":"b","h":58,"v":16.6},{"d":"龙华","k":"b","h":59,"v":15.1},{"d":"龙华","k":"b","h":60,"v":14.5},{"d":"龙华","k":"b","h":61,"v":13.6},{"d":"龙华","k":"b","h":62,"v":14.5},{"d":"龙华","k":"b","h":63,"v":14.8},{"d":"龙华","k":"b","h":64,"v":16.0},{"d":"龙华","k":"b","h":65,"v":21.5},{"d":"龙华","k":"b","h":66,"v":30.3},{"d":"龙华","k":"b","h":67,"v":29.4},{"d":"龙华","k":"b","h":68,"v":27.0},{"d":"龙华","k":"b","h":69,"v":25.5},{"d":"龙华","k":"b","h":70,"v":24.8},{"d":"龙华","k":"b","h":71,"v":23.6},{"d":"龙华","k":"b","h":72,"v":22.1},{"d":"龙华","k":"b","h":73,"v":19.0},{"d":"龙华","k":"b","h":74,"v":16.3},{"d":"龙华","k":"b","h":75,"v":16.0},{"d":"龙华","k":"b","h":76,"v":16.0},{"d":"龙华","k":"b","h":77,"v":16.3},{"d":"龙华","k":"b","h":78,"v":18.7},{"d":"龙华","k":"b","h":79,"v":23.9},
{"d":"坪山","k":"a","h":0,"v":20.6},{"d":"坪山","k":"a","h":1,"v":20.0},{"d":"坪山","k":"a","h":2,"v":19.0},{"d":"坪山","k":"a","h":3,"v":18.7},{"d":"坪山","k":"a","h":4,"v":18.6},{"d":"坪山","k":"a","h":5,"v":22.7},{"d":"坪山","k":"a","h":6,"v":27.0},{"d":"坪山","k":"a","h":7,"v":28.8},{"d":"坪山","k":"a","h":8,"v":19.0},{"d":"坪山","k":"a","h":9,"v":10.5},{"d":"坪山","k":"a","h":10,"v":7.4},{"d":"坪山","k":"a","h":11,"v":6.3},{"d":"坪山","k":"a","h":12,"v":5.3},{"d":"坪山","k":"a","h":13,"v":4.5},{"d":"坪山","k":"a","h":14,"v":4.3},{"d":"坪山","k":"a","h":15,"v":4.7},{"d":"坪山","k":"a","h":16,"v":6.5},{"d":"坪山","k":"a","h":17,"v":11.4},{"d":"坪山","k":"a","h":18,"v":22.7},{"d":"坪山","k":"a","h":19,"v":22.7},{"d":"坪山","k":"a","h":20,"v":21.8},{"d":"坪山","k":"a","h":21,"v":20.8},{"d":"坪山","k":"a","h":22,"v":24.5},{"d":"坪山","k":"a","h":23,"v":28.8},{"d":"坪山","k":"a","h":24,"v":26.1},{"d":"坪山","k":"a","h":25,"v":27.0},{"d":"坪山","k":"a","h":26,"v":28.2},{"d":"坪山","k":"a","h":27,"v":23.9},{"d":"坪山","k":"a","h":28,"v":21.5},{"d":"坪山","k":"a","h":29,"v":20.0},{"d":"坪山","k":"a","h":30,"v":18.1},{"d":"坪山","k":"a","h":31,"v":19.0},{"d":"坪山","k":"a","h":32,"v":17.5},{"d":"坪山","k":"a","h":33,"v":11.1},{"d":"坪山","k":"a","h":34,"v":7.8},{"d":"坪山","k":"a","h":35,"v":6.8},{"d":"坪山","k":"a","h":36,"v":6.1},{"d":"坪山","k":"a","h":37,"v":7.1},{"d":"坪山","k":"a","h":38,"v":6.5},{"d":"坪山","k":"a","h":39,"v":5.3},{"d":"坪山","k":"a","h":40,"v":8.1},{"d":"坪山","k":"a","h":41,"v":10.5},{"d":"坪山","k":"a","h":42,"v":15.4},{"d":"坪山","k":"a","h":43,"v":15.1},{"d":"坪山","k":"a","h":44,"v":14.8},{"d":"坪山","k":"a","h":45,"v":22.0},{"d":"坪山","k":"a","h":46,"v":26.7},{"d":"坪山","k":"a","h":47,"v":25.8},{"d":"坪山","k":"a","h":48,"v":27.0},{"d":"坪山","k":"a","h":49,"v":22.7},{"d":"坪山","k":"a","h":50,"v":19.0},{"d":"坪山","k":"a","h":51,"v":16.6},{"d":"坪山","k":"a","h":52,"v":14.8},{"d":"坪山","k":"a","h":53,"v":13.6},{"d":"坪山","k":"a","h":54,"v":12.9},{"d":"坪山","k":"a","h":55,"v":14.8},{"d":"坪山","k":"a","h":56,"v":11.7},{"d":"坪山","k":"a","h":57,"v":8.1},{"d":"坪山","k":"a","h":58,"v":6.5},{"d":"坪山","k":"a","h":59,"v":5.3},{"d":"坪山","k":"a","h":60,"v":4.4},{"d":"坪山","k":"a","h":61,"v":3.9},{"d":"坪山","k":"a","h":62,"v":4.4},{"d":"坪山","k":"a","h":63,"v":4.9},{"d":"坪山","k":"a","h":64,"v":5.9},{"d":"坪山","k":"a","h":65,"v":9.0},{"d":"坪山","k":"a","h":66,"v":12.6},{"d":"坪山","k":"a","h":67,"v":12.9},{"d":"坪山","k":"a","h":68,"v":12.9},{"d":"坪山","k":"a","h":69,"v":11.7},{"d":"坪山","k":"a","h":70,"v":12.3},{"d":"坪山","k":"a","h":71,"v":11.8},{"d":"坪山","k":"a","h":72,"v":11.1},{"d":"坪山","k":"a","h":73,"v":9.6},{"d":"坪山","k":"a","h":74,"v":8.4},{"d":"坪山","k":"a","h":75,"v":8.2},{"d":"坪山","k":"a","h":76,"v":7.9},{"d":"坪山","k":"a","h":77,"v":8.4},{"d":"坪山","k":"a","h":78,"v":9.6},{"d":"坪山","k":"a","h":79,"v":11.8},
{"d":"平均","k":"avg","h":0,"v":34.9},{"d":"平均","k":"avg","h":1,"v":30.6},{"d":"平均","k":"avg","h":2,"v":28.5},{"d":"平均","k":"avg","h":3,"v":27.3},{"d":"平均","k":"avg","h":4,"v":26.5},{"d":"平均","k":"avg","h":5,"v":26.4},{"d":"平均","k":"avg","h":6,"v":26.7},{"d":"平均","k":"avg","h":7,"v":27.3},{"d":"平均","k":"avg","h":8,"v":22.1},{"d":"平均","k":"avg","h":9,"v":16.3},{"d":"平均","k":"avg","h":10,"v":12.6},{"d":"平均","k":"avg","h":11,"v":11.6},{"d":"平均","k":"avg","h":12,"v":11.1},{"d":"平均","k":"avg","h":13,"v":10.5},{"d":"平均","k":"avg","h":14,"v":10.8},{"d":"平均","k":"avg","h":15,"v":11.8},{"d":"平均","k":"avg","h":16,"v":14.5},{"d":"平均","k":"avg","h":17,"v":22.1},{"d":"平均","k":"avg","h":18,"v":40.7},{"d":"平均","k":"avg","h":19,"v":39.8},{"d":"平均","k":"avg","h":20,"v":36.3},{"d":"平均","k":"avg","h":21,"v":32.8},{"d":"平均","k":"avg","h":22,"v":30.7},{"d":"平均","k":"avg","h":23,"v":30.3},{"d":"平均","k":"avg","h":24,"v":32.2},{"d":"平均","k":"avg","h":25,"v":33.0},{"d":"平均","k":"avg","h":26,"v":30.6},{"d":"平均","k":"avg","h":27,"v":28.5},{"d":"平均","k":"avg","h":28,"v":26.9},{"d":"平均","k":"avg","h":29,"v":26.4},{"d":"平均","k":"avg","h":30,"v":26.4},{"d":"平均","k":"avg","h":31,"v":27.6},{"d":"平均","k":"avg","h":32,"v":24.8},{"d":"平均","k":"avg","h":33,"v":19.0},{"d":"平均","k":"avg","h":34,"v":14.0},{"d":"平均","k":"avg","h":35,"v":12.5},{"d":"平均","k":"avg","h":36,"v":11.6},{"d":"平均","k":"avg","h":37,"v":12.0},{"d":"平均","k":"avg","h":38,"v":12.9},{"d":"平均","k":"avg","h":39,"v":14.5},{"d":"平均","k":"avg","h":40,"v":17.2},{"d":"平均","k":"avg","h":41,"v":23.0},{"d":"平均","k":"avg","h":42,"v":35.7},{"d":"平均","k":"avg","h":43,"v":35.5},{"d":"平均","k":"avg","h":44,"v":31.6},{"d":"平均","k":"avg","h":45,"v":31.6},{"d":"平均","k":"avg","h":46,"v":31.4},{"d":"平均","k":"avg","h":47,"v":33.0},{"d":"平均","k":"avg","h":48,"v":30.6},{"d":"平均","k":"avg","h":49,"v":28.2},{"d":"平均","k":"avg","h":50,"v":26.1},{"d":"平均","k":"avg","h":51,"v":24.7},{"d":"平均","k":"avg","h":52,"v":23.4},{"d":"平均","k":"avg","h":53,"v":22.2},{"d":"平均","k":"avg","h":54,"v":22.2},{"d":"平均","k":"avg","h":55,"v":24.2},{"d":"平均","k":"avg","h":56,"v":18.5},{"d":"平均","k":"avg","h":57,"v":16.0},{"d":"平均","k":"avg","h":58,"v":12.9},{"d":"平均","k":"avg","h":59,"v":11.4},{"d":"平均","k":"avg","h":60,"v":10.5},{"d":"平均","k":"avg","h":61,"v":10.0},{"d":"平均","k":"avg","h":62,"v":10.2},{"d":"平均","k":"avg","h":63,"v":11.0},{"d":"平均","k":"avg","h":64,"v":13.1},{"d":"平均","k":"avg","h":65,"v":18.4},{"d":"平均","k":"avg","h":66,"v":25.2},{"d":"平均","k":"avg","h":67,"v":24.8},{"d":"平均","k":"avg","h":68,"v":22.4},{"d":"平均","k":"avg","h":69,"v":21.5},{"d":"平均","k":"avg","h":70,"v":20.9},{"d":"平均","k":"avg","h":71,"v":20.3},{"d":"平均","k":"avg","h":72,"v":18.1},{"d":"平均","k":"avg","h":73,"v":15.7},{"d":"平均","k":"avg","h":74,"v":14.2},{"d":"平均","k":"avg","h":75,"v":13.4},{"d":"平均","k":"avg","h":76,"v":13.1},{"d":"平均","k":"avg","h":77,"v":13.7},{"d":"平均","k":"avg","h":78,"v":15.4},{"d":"平均","k":"avg","h":79,"v":19.0}
]},
"resolve": {"scale": {"shape": "independent", "color": "independent"}, "axis": {"x": "independent", "y": "independent"}},
"layer": [
  {
    "transform": [{"filter": "datum.k != 'avg'"}],
    "mark": {"type": "line", "strokeWidth": 2},
    "encoding": {
      "x": {"field": "h", "type": "quantitative", "scale": {"domain": [0, 79], "nice": false, "zero": false},
        "axis": {"orient": "bottom", "values": [0,4,8,12,16,20,24,28,32,36,40,44,48,52,56,60,64,68,72,76,79], "labelExpr": "datum.value == 0 ? '2-5 00' : datum.value == 24 ? '2-6 00' : datum.value == 48 ? '2-7 00' : datum.value == 72 ? '2-8 00' : datum.value == 79 ? '08' : ((datum.value % 24) < 10 ? '0' : '') + (datum.value % 24)", "title": "Date", "labelPadding": 32, "titlePadding": 10, "labelFlush": false, "labelOverlap": false}},
      "y": {"field": "v", "type": "quantitative", "scale": {"domain": [0, 100], "nice": false},
        "axis": {"orient": "left", "values": [0,20,40,60,80,100], "title": "NO₂ concentrations [μg m⁻³]", "labelPadding": 23, "titlePadding": 26}},
      "color": {"field": "d", "type": "nominal", "legend": null,
        "scale": {"domain": ["福田","罗湖","南山","盐田","龙岗","宝安","大鹏","龙华","坪山"], "range": ["#cd853f","#6a5acd","#87cefa","#4682b4","#ffd700","#ff8c00","#9fe02c","#da70d6","#20b2aa"]}},
      "detail": {"field": "k"}
    }
  },
  {
    "transform": [{"filter": "datum.k == 'avg'"}],
    "mark": {"type": "line", "strokeWidth": 4.5, "color": "black"},
    "encoding": {
      "x": {"field": "h", "type": "quantitative", "axis": {"orient": "top", "values": [0,4,8,12,16,20,24,28,32,36,40,44,48,52,56,60,64,68,72,76], "labels": false, "title": null}},
      "y": {"field": "v", "type": "quantitative", "axis": {"orient": "right", "values": [0,20,40,60,80,100], "labels": false, "title": null}}
    }
  },
  {
    "transform": [{"filter": "datum.k == 'a' && indexof(['福田','南山','盐田','龙岗','大鹏','龙华'], datum.d) >= 0"}],
    "mark": {"type": "point", "filled": false, "strokeWidth": 1.8, "size": 144, "opacity": 1},
    "encoding": {
      "x": {"field": "h", "type": "quantitative", "axis": null},
      "y": {"field": "v", "type": "quantitative", "axis": null},
      "color": {"field": "d", "type": "nominal", "legend": null,
        "scale": {"domain": ["福田","罗湖","南山","盐田","龙岗","宝安","大鹏","龙华","坪山"], "range": ["#cd853f","#6a5acd","#87cefa","#4682b4","#ffd700","#ff8c00","#9fe02c","#da70d6","#20b2aa"]}},
      "shape": {"field": "d", "type": "nominal", "legend": null,
        "scale": {"domain": ["福田","南山","盐田","龙岗","大鹏","龙华"], "range": ["M1,0A1,1 0 1,1 -1,0A1,1 0 1,1 1,0Z", "M-1,0H1M0,-1V1", "M-1,0H1M0,-1V1M-0.7,-0.7L0.7,0.7M-0.7,0.7L0.7,-0.7", "M0,-1.1L1.1,0.8L-1.1,0.8Z", "M0,-1.15L0.85,0L0,1.15L-0.85,0Z", "M-0.75,-0.75H0.75V0.75H-0.75Z"]}}
    }
  },
  {
    "transform": [{"filter": "datum.k == 'a' && datum.h == 0"}],
    "mark": {"type": "point", "filled": false, "strokeWidth": 1.8, "size": 144, "opacity": 0},
    "encoding": {
      "x": {"field": "h", "type": "quantitative", "axis": null},
      "y": {"field": "v", "type": "quantitative", "axis": null},
      "color": {"field": "d", "type": "nominal",
        "scale": {"domain": ["福田","罗湖","南山","盐田","龙岗","宝安","大鹏","龙华","坪山"], "range": ["#cd853f","#6a5acd","#87cefa","#4682b4","#ffd700","#ff8c00","#9fe02c","#da70d6","#20b2aa"]},
        "legend": {"orient": "none", "legendX": 140, "legendY": -84, "direction": "horizontal", "title": null, "labelFont": "Noto Sans CJK SC", "labelFontSize": 24, "labelColor": "#262626", "labelOffset": 26, "columnPadding": 8, "symbolSize": 144, "symbolStrokeWidth": 1.8, "symbolOpacity": 1, "symbolFillColor": "transparent"}},
      "shape": {"field": "d", "type": "nominal",
        "scale": {"domain": ["福田","罗湖","南山","盐田","龙岗","宝安","大鹏","龙华","坪山"], "range": ["M-5,0H-1M1,0H5M1,0A1,1 0 1,1 -1,0A1,1 0 1,1 1,0Z", "M-5,0H5", "M-5,0H5M0,-1V1", "M-5,0H5M0,-1V1M-0.7,-0.7L0.7,0.7M-0.7,0.7L0.7,-0.7", "M-5,0H-0.7M0.7,0H5M0,-1.1L1.1,0.8L-1.1,0.8Z", "M-5,0H5", "M-5,0H-0.85M0.85,0H5M0,-1.15L0.85,0L0,1.15L-0.85,0Z", "M-5,0H-0.75M0.75,0H5M-0.75,-0.75H0.75V0.75H-0.75Z", "M-5,0H5"]},
        "legend": {"orient": "none", "legendX": 140, "legendY": -84, "direction": "horizontal", "title": null, "labelFont": "Noto Sans CJK SC", "labelFontSize": 24, "labelColor": "#262626", "labelOffset": 26, "columnPadding": 8, "symbolSize": 144, "symbolStrokeWidth": 1.8, "symbolOpacity": 1, "symbolFillColor": "transparent"}}
    }
  },
  {
    "data": {"values": [{"label": "annotation"}]},
    "mark": {"type": "text", "text": "Daily average of NO₂", "font": "DejaVu Sans", "fontSize": 20, "fontWeight": "normal", "align": "left", "baseline": "middle", "color": "black"},
    "encoding": {"x": {"datum": 18.1, "type": "quantitative", "axis": null}, "y": {"datum": 78.6, "type": "quantitative", "axis": null}}
  },
  {
    "data": {"values": [{"label": "annotation"}]},
    "mark": {"type": "text", "text": ["2-5 : 24", "2-6 : 24", "2-7 : 24"], "lineHeight": 33, "font": "DejaVu Sans", "fontSize": 21, "fontWeight": "normal", "align": "left", "baseline": "middle", "color": "black"},
    "encoding": {"x": {"datum": 21.7, "type": "quantitative", "axis": null}, "y": {"datum": 72.6, "type": "quantitative", "axis": null}}
  }
]
}
